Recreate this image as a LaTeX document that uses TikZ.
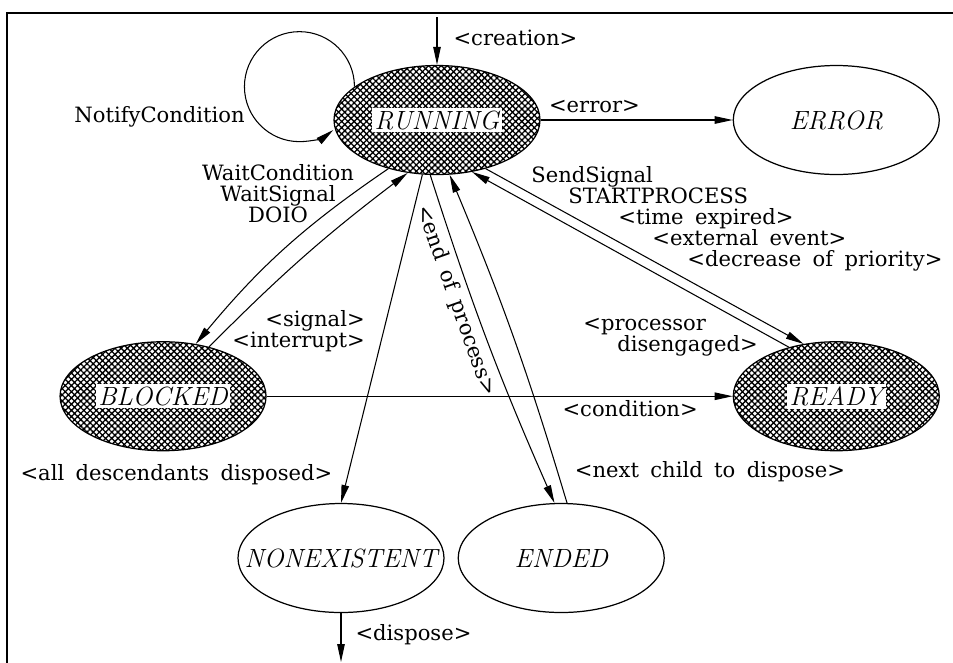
\documentclass[tikz,border=0pt]{standalone}
\usepackage{fontspec}
\newfontfamily\lblfont[WordSpace=1.7]{DejaVu Serif}
\usetikzlibrary{positioning,shapes.geometric,arrows.meta,patterns.meta}
\tikzset{state/.style={ellipse,draw,line width=0.7pt,inner sep=0pt,minimum width=4.12cm,minimum height=2.18cm,font=\fontsize{15}{18}\selectfont\itshape},
	 busy/.style={state,pattern={Hatch[angle=45,distance=2.5pt,line width=0.75pt]}},
	 lbl/.style={inner sep=0pt,font=\lblfont\fontsize{12}{12}\selectfont},
	 trans/.style={->,line width=0.6pt},
	 >={Triangle[length=0.36cm,width=0.15cm]}
	 }
\newcommand{\sname}[1]{\makebox[0pt]{#1}}
\newcommand{\hname}[1]{\makebox[0pt]{\fboxsep=1.5pt\colorbox{white}{#1}}}

\begin{document}
\begin{tikzpicture}
	\useasboundingbox (0,0) rectangle (19.06,-13.24);
	\draw[line width=1.13pt] (0.146,-13.3) |- (19.1,-0.256);
	\node[busy] (running) at (8.74,-2.40) {\hname{RUNNING}};
	\node[state] (error) [right=3.84cm of running] {\sname{ERROR}};
	\node[busy] (ready) [below=3.32cm of error] {\hname{READY}};
	\node[busy] (blocked) [left=9.32cm of ready] {\hname{BLOCKED}};
	\node[state] (nonexistent) at (6.82,-11.16) {\sname{NONEXISTENT}};
	\node[state] (ended) [right=0.26cm of nonexistent] {\sname{ENDED}};
	\coordinate (born) at (8.74,-0.34);
	\coordinate (gone) at (6.82,-13.24);
	% transitions
	\draw[trans] (born) -- (running) node[lbl,pos=0.43,right=0.32cm] (lcreation) {<creation>};
	\draw[trans] (running) -- (error) node[lbl,pos=0.28,above=0.14cm] (lerror) {<error>};
	\draw[trans] (running.158) arc[start angle=0,end angle=308,radius=1.1cm];
	\draw[trans] (running.225) to[bend right=8] (blocked.58);
	\draw[trans] (blocked.47) to[bend left=4] (running.241);
	\draw[trans] (running.315) -- (ready.122);
	\draw[trans] (ready.134) -- (running.304);
	\draw[trans] (blocked) -- (ready) node[lbl,pos=0.78,below=0.08cm] (lcondition) {<condition>};
	\draw[trans] (running.255) -- (nonexistent.north) node[lbl,pos=0.915,left=0.3cm] (ldesc) {<all descendants disposed>};
	\draw[trans] (running.263) to[bend right=3] node[lbl,pos=0.35,sloped,below=0.1cm] (lend) {<end of process>} (ended.97);
	\draw[trans] (ended.84) to[bend right=3] node[lbl,pos=0.084,right=0.34cm] (lnext) {<next child to dispose>} (running.283);
	\draw[trans] (nonexistent) -- (gone) node[lbl,pos=0.45,right=0.28cm] (ldispose) {<dispose>};
	% labels of the bundled transitions
	\node[lbl,anchor=base east] (lnotify) at (4.90,-2.44) {NotifyCondition};
	\node[lbl,align=center] (lwait) at (5.56,-3.88) {WaitCondition\\WaitSignal\\DOIO};
	\node[lbl,align=right,anchor=west] (lsignal) at (4.64,-6.62) {<signal>\\<interrupt>};
	\node[lbl,align=left,anchor=north west] (lsend) at (10.62,-3.32) {SendSignal\\\hspace*{0.74cm}STARTPROCESS\\\hspace*{1.74cm}<time expired>\\\hspace*{2.42cm}<external event>\\\hspace*{3.12cm}<decrease of priority>};
	\node[lbl,align=left,anchor=north west] (lfree) at (11.66,-6.36) {<processor\\\hspace*{0.68cm}disengaged>};
\end{tikzpicture}
\end{document}
